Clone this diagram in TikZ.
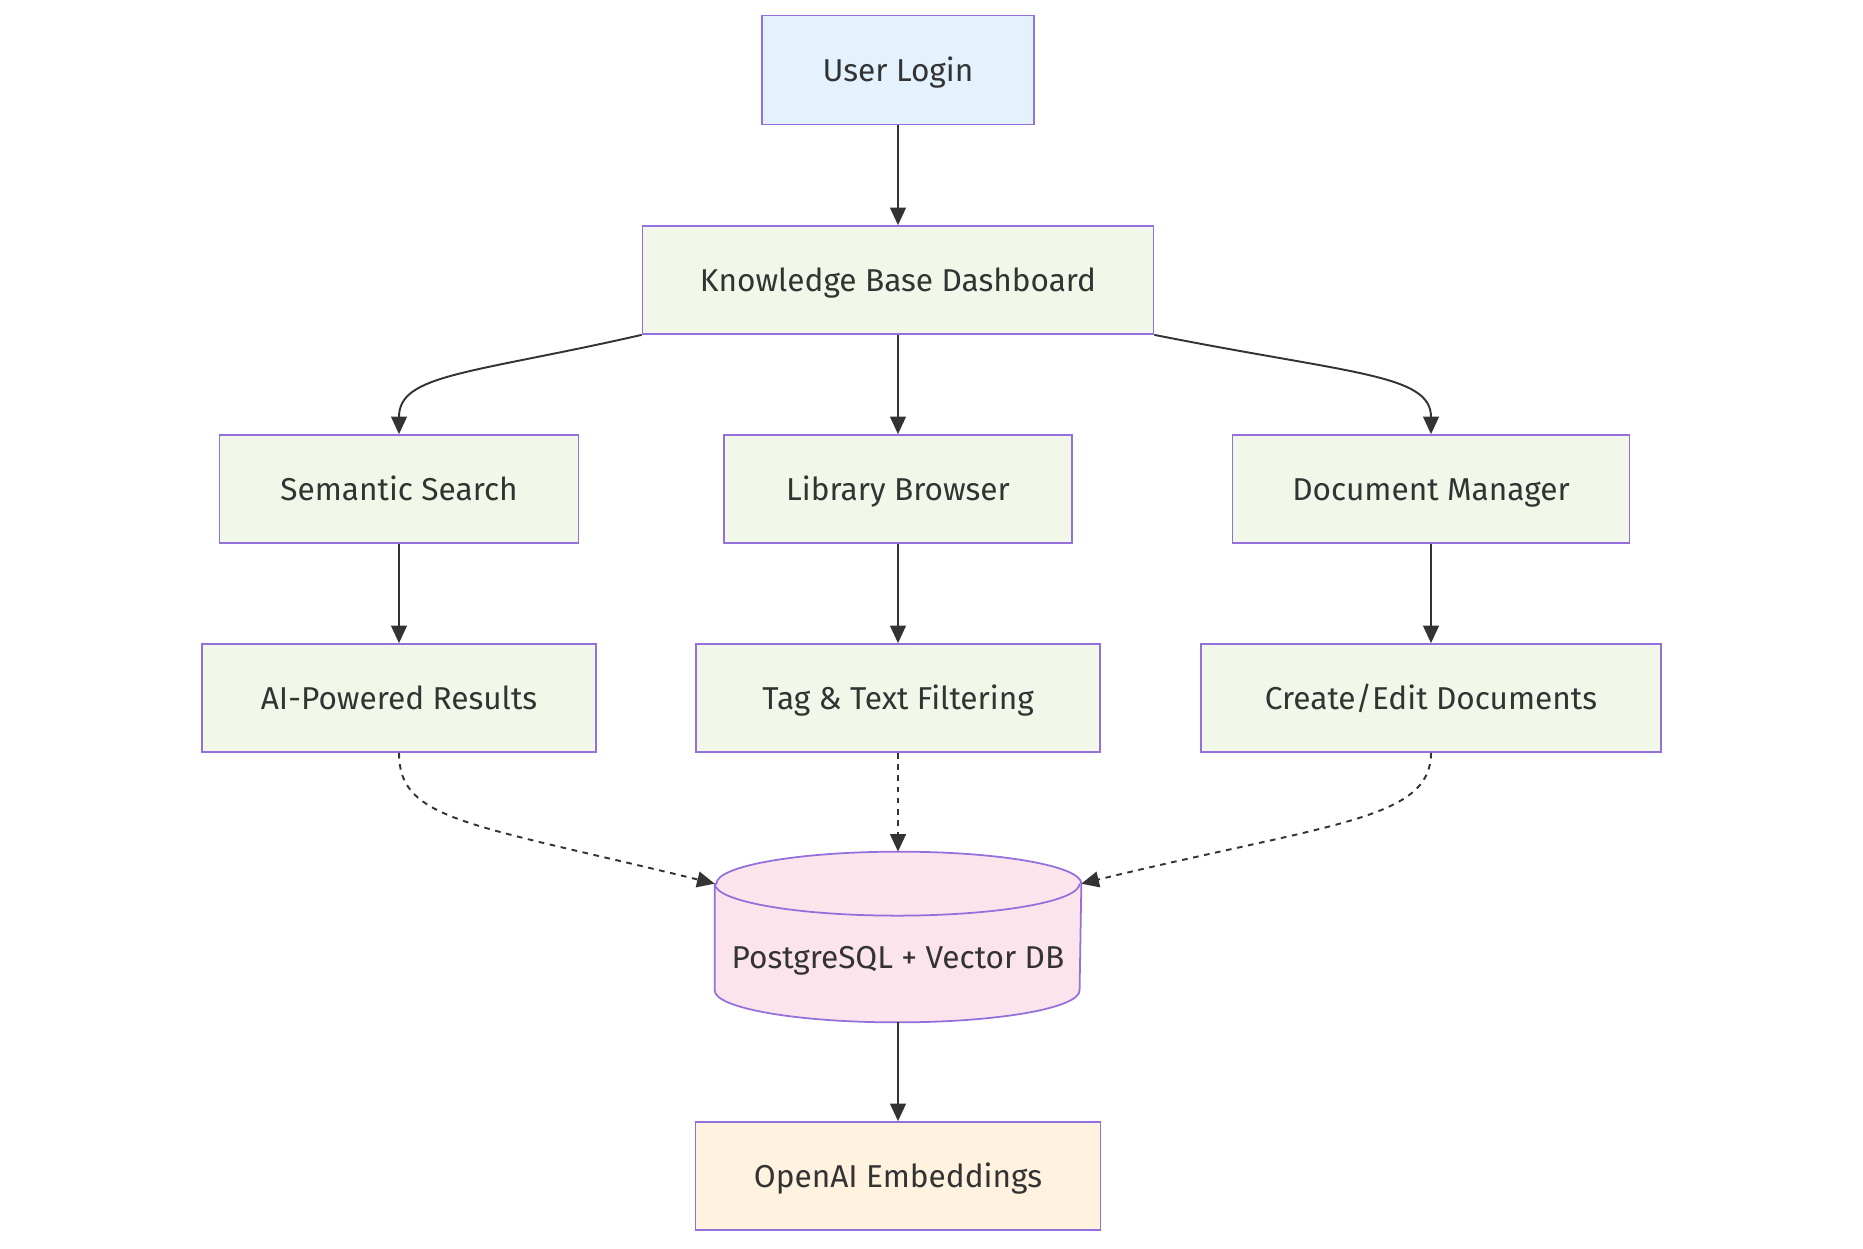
\documentclass[tikz,border=0pt]{standalone}
\usepackage{fontspec}
\setmainfont{Fira Sans}
\usetikzlibrary{calc}
\usetikzlibrary{arrows.meta}

\definecolor{edgeline}{HTML}{333333}
\definecolor{boxline}{HTML}{9370DB}
\definecolor{loginfill}{HTML}{E3F2FD}
\definecolor{pagefill}{HTML}{F1F8E9}
\definecolor{dbfill}{HTML}{FCE4EC}
\definecolor{apifill}{HTML}{FFF3E0}

\tikzset{
    label font/.style={text=edgeline, font=\fontsize{18}{22}\selectfont, text height=17pt, text depth=4pt},
    box/.style={rectangle, draw=boxline, line width=1pt, fill=pagefill,
        label font, minimum height=2.16cm, inner sep=0pt},
    flow/.style={draw=edgeline, line width=1.1pt, -{Triangle[length=10pt,width=9pt]}},
    dflow/.style={flow, dash pattern=on 3.2pt off 3.2pt}
}

\begin{document}
\begin{tikzpicture}[x=0.02cm, y=-0.02cm]
            \useasboundingbox (0,0) rectangle (1863,1248);

            % Place the top nodes
            \node[box, fill=loginfill, minimum width=5.44cm, minimum height=2.18cm] (login) at (898,70) {User Login};
            \node[box, minimum width=10.22cm] (kb) at (898,280) {Knowledge Base Dashboard};

            % Place the three branches
            \node[box, minimum width=7.18cm] (ss) at (399,489) {Semantic Search};
            \node[box, minimum width=6.96cm] (lb) at (898,489) {Library Browser};
            \node[box, minimum width=7.94cm] (dm) at (1431,489) {Document Manager};
            \node[box, minimum width=7.88cm] (ai) at (399,698) {AI-Powered Results};
            \node[box, minimum width=8.08cm] (tag) at (898,698) {Tag \& Text Filtering};
            \node[box, minimum width=9.2cm] (cr) at (1431,698) {Create/Edit Documents};

            % The database cylinder
            \node[box, draw=none, fill=none, minimum width=7.3cm, minimum height=3.38cm] (db) at (898,937) {};
            \coordinate (dbl) at ($(db.north west)+(0,32)$);
            \coordinate (dbr) at ($(db.north east)+(0,32)$);
            \draw[boxline, line width=1pt, fill=dbfill] (dbl) -- ($(db.south west)+(0,-32)$)
                arc (180:360:3.65cm and 0.64cm) -- (dbr) arc (0:180:3.65cm and 0.64cm) -- cycle;
            \draw[boxline, line width=1pt] (dbl) arc (180:360:3.65cm and 0.64cm);
            \node[label font] (dbtext) at ($(db.center)+(0,20)$) {PostgreSQL + Vector DB};

            \node[box, fill=apifill, minimum width=8.1cm] (oe) at (898,1176) {OpenAI Embeddings};

            % The lines!
            \draw[flow] (login) -- (kb);
            \draw[flow] (kb.south west) .. controls (470,374) and (399,374) .. (ss.north);
            \draw[flow] (kb) -- (lb);
            \draw[flow] (kb.south east) .. controls (1351,374) and (1431,374) .. (dm.north);
            \draw[flow] (ss) -- (ai);
            \draw[flow] (lb) -- (tag);
            \draw[flow] (dm) -- (cr);
            \draw[dflow] (ai.south) .. controls (399,820) and (466,823) .. (dbl);
            \draw[dflow] (tag.south) -- (db.north);
            \draw[dflow] (cr.south) .. controls (1431,820) and (1331,823) .. (dbr);
            \draw[flow] (db.south) -- (oe);
        \end{tikzpicture}
\end{document}
